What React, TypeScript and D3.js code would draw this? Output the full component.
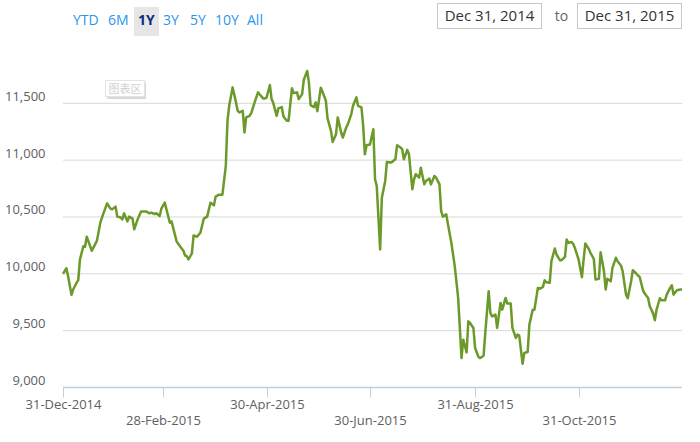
import * as d3 from 'd3';

// days after 31-Dec-2014 and the index close read for that day
const dayOffsets = [
  0, 2, 3, 5, 6, 8, 9, 10, 12, 13, 14, 16, 17, 19, 20, 22, 24, 26, 28, 29, 31, 32, 34, 35, 36, 38, 39, 41, 42, 44,
  46, 49, 51, 52, 54, 55, 57, 58, 60, 61, 63, 64, 67, 69, 71, 72, 73, 74, 76, 77, 79, 81, 83, 85, 87, 89, 90, 92, 94, 96,
  97, 98, 100, 102, 103, 104, 106, 107, 108, 110, 111, 113, 115, 116, 118, 119, 120, 122, 123, 124, 126, 127, 129, 130, 132, 133, 135, 136, 138, 139,
  141, 142, 144, 145, 146, 148, 149, 150, 152, 153, 155, 156, 158, 159, 161, 162, 164, 165, 167, 168, 170, 171, 173, 174, 176, 177, 178, 179, 181, 183,
  184, 185, 187, 188, 190, 191, 193, 194, 196, 197, 199, 200, 201, 203, 204, 206, 207, 208, 210, 211, 213, 214, 216, 217, 219, 220, 222, 223, 224, 226,
  227, 229, 231, 233, 235, 236, 238, 239, 240, 242, 243, 245, 246, 248, 249, 251, 252, 253, 255, 256, 258, 259, 261, 262, 264, 265, 267, 268, 269, 271,
  272, 274, 275, 277, 278, 280, 281, 283, 284, 285, 287, 288, 290, 291, 293, 294, 296, 297, 298, 300, 301, 302, 304, 306, 307, 308, 310, 311, 313, 314,
  316, 317, 319, 320, 321, 323, 324, 326, 327, 329, 330, 332, 333, 335, 336, 338, 339, 340, 342, 343, 345, 346, 348, 349, 350, 352, 353, 355, 356, 358,
  359, 360, 362, 364, 365,
];

const closes = [
  10000, 10049, 9979, 9815, 9862, 9921, 9944, 10126, 10243, 10238, 10326, 10243, 10203, 10261, 10291, 10450, 10538, 10620, 10573, 10567, 10591, 10503, 10496, 10479, 10532, 10461, 10503, 10485, 10391, 10479,
  10549, 10549, 10532, 10538, 10526, 10532, 10508, 10573, 10626, 10567, 10450, 10461, 10285, 10243, 10203, 10161, 10155, 10126, 10179, 10338, 10326, 10361, 10485, 10503, 10626, 10602, 10679, 10696, 10696, 10949,
  11346, 11478, 11640, 11508, 11434, 11420, 11434, 11243, 11376, 11390, 11414, 11508, 11596, 11578, 11543, 11543, 11549, 11660, 11537, 11502, 11390, 11455, 11467, 11384, 11346, 11346, 11632, 11590, 11596, 11537,
  11581, 11707, 11784, 11684, 11484, 11467, 11508, 11431, 11637, 11602, 11522, 11367, 11257, 11160, 11228, 11376, 11243, 11199, 11287, 11317, 11405, 11478, 11552, 11478, 11464, 11302, 11052, 11131, 11137, 11272,
  10831, 10773, 10214, 10670, 10817, 10984, 10979, 10984, 11008, 11131, 11111, 11096, 11008, 11090, 11052, 10743, 10831, 10876, 10846, 10934, 10787, 10817, 10838, 10787, 10861, 10846, 10787, 10552, 10502, 10523,
  10435, 10273, 10067, 9788, 9259, 9421, 9309, 9582, 9568, 9524, 9347, 9268, 9259, 9280, 9480, 9847, 9656, 9626, 9641, 9524, 9744, 9685, 9788, 9738, 9738, 9524, 9436, 9465, 9459, 9209,
  9303, 9312, 9553, 9685, 9685, 9876, 9868, 9885, 9944, 9926, 9921, 10111, 10223, 10170, 10120, 10120, 10150, 10302, 10273, 10279, 10258, 10220, 10126, 9970, 10126, 10267, 10220, 10185, 10132, 9950,
  9956, 10190, 10023, 9862, 9956, 9935, 10053, 10141, 10111, 10073, 10023, 9817, 9785, 9935, 10032, 10003, 9985, 9974, 9855, 9826, 9788, 9714, 9650, 9591, 9685, 9785, 9767, 9767, 9817, 9876,
  9899, 9817, 9855, 9862, 9862,
];

const yTicks = [9000, 9500, 10000, 10500, 11000, 11500];
const xTickDays = [0, 59, 120, 181, 243, 304];
const rangeButtons = ['YTD', '6M', '1Y', '3Y', '5Y', '10Y', 'All'];
const selectedRange = '1Y';
const fromLabel = 'Dec 31, 2014';
const toLabel = 'Dec 31, 2015';
const plotAreaLabel = '图表区';

const W = 700;
const H = 442;
const left = 63;
const right = 682;
const bottom = 387.5;
const font = '"Open Sans", "Noto Sans", sans-serif';
const buttonStarts = [73, 108, 138, 163, 190, 215, 247];

interface Point {
  date: Date;
  close: number;
}

export default function App(): JSX.Element {
  const start = new Date(2014, 11, 31);
  const data: Point[] = dayOffsets.map((d, i) => ({ date: d3.timeDay.offset(start, d), close: closes[i] }));

  const x = d3.scaleTime([start, d3.timeDay.offset(start, 365)], [left, right]);
  const y = d3.scaleLinear([9000, 11500], [bottom, 103.3]);

  const line = d3
    .line<Point>()
    .x((d) => x(d.date))
    .y((d) => y(d.close));

  const fmtTick = d3.timeFormat('%d-%b-%Y');
  const fmtY = d3.format(',');

  return (
    <div style={{ position: 'absolute', left: 0, top: 0 }}>
      <svg width={W} height={H} style={{ display: 'block', fontFamily: font }}>
        <rect width={W} height={H} fill="#fff" />

        {/* range selector */}
        {rangeButtons.map((b, i) => {
          const sel = b === selectedRange;
          return (
            <g key={b}>
              {sel && <rect x={buttonStarts[i] - 4} y={7} width={25} height={29} fill="#e6e6e6" />}
              <text
                x={buttonStarts[i]}
                y={25}
                fontSize={14}
                fill={sel ? '#0d2c80' : '#2a95f0'}
                fontWeight={sel ? 'bold' : 'normal'}
              >
                {b}
              </text>
            </g>
          );
        })}

        {/* date inputs */}
        <rect x={437.5} y={3.5} width={104} height={25} fill="#fff" stroke="#c8c8c8" />
        <text x={489.5} y={21} fontSize={15} fill="#333" textAnchor="middle">
          {fromLabel}
        </text>
        <text x={561.5} y={21} fontSize={14} fill="#666" textAnchor="middle">
          to
        </text>
        <rect x={577.5} y={3.5} width={104} height={25} fill="#fff" stroke="#c8c8c8" />
        <text x={629.5} y={21} fontSize={15} fill="#333" textAnchor="middle">
          {toLabel}
        </text>

        {/* grid + y labels */}
        {yTicks.map((t) => (
          <g key={t}>
            {t > 9000 && <line x1={left} x2={right} y1={y(t)} y2={y(t)} stroke="#d8d8d8" strokeWidth={1} />}
            <text x={45.5} y={y(t) - 2.5} fontSize={13} fill="#606060" textAnchor="end">
              {fmtY(t)}
            </text>
          </g>
        ))}

        {/* x axis */}
        <line x1={left} x2={right} y1={bottom} y2={bottom} stroke="#c0d0e0" strokeWidth={1.5} />
        {xTickDays.map((d, i) => {
          const tx = Math.round(x(d3.timeDay.offset(start, d))) + 0.5;
          return (
            <g key={d}>
              <line x1={tx} x2={tx} y1={bottom} y2={bottom + 10} stroke="#c0d0e0" strokeWidth={1} />
              <text x={tx} y={i % 2 === 0 ? 409 : 425} fontSize={13} fill="#606060" textAnchor="middle">
                {fmtTick(d3.timeDay.offset(start, d))}
              </text>
            </g>
          );
        })}

        {/* series */}
        <path d={line(data) ?? ''} fill="none" stroke="#6b9a2a" strokeWidth={2.5} strokeLinejoin="round" />

        {/* plot area tag */}
        <rect x={107} y={82} width={39} height={17} fill="#d8d8d8" />
        <rect x={105.5} y={80.5} width={39} height={16} fill="#fff" stroke="#e4e4e4" />
        <text x={125} y={93} fontSize={11} fill="#cfcfcf" textAnchor="middle" fontFamily='"Noto Sans CJK SC", sans-serif'>
          {plotAreaLabel}
        </text>
      </svg>
    </div>
  );
}
